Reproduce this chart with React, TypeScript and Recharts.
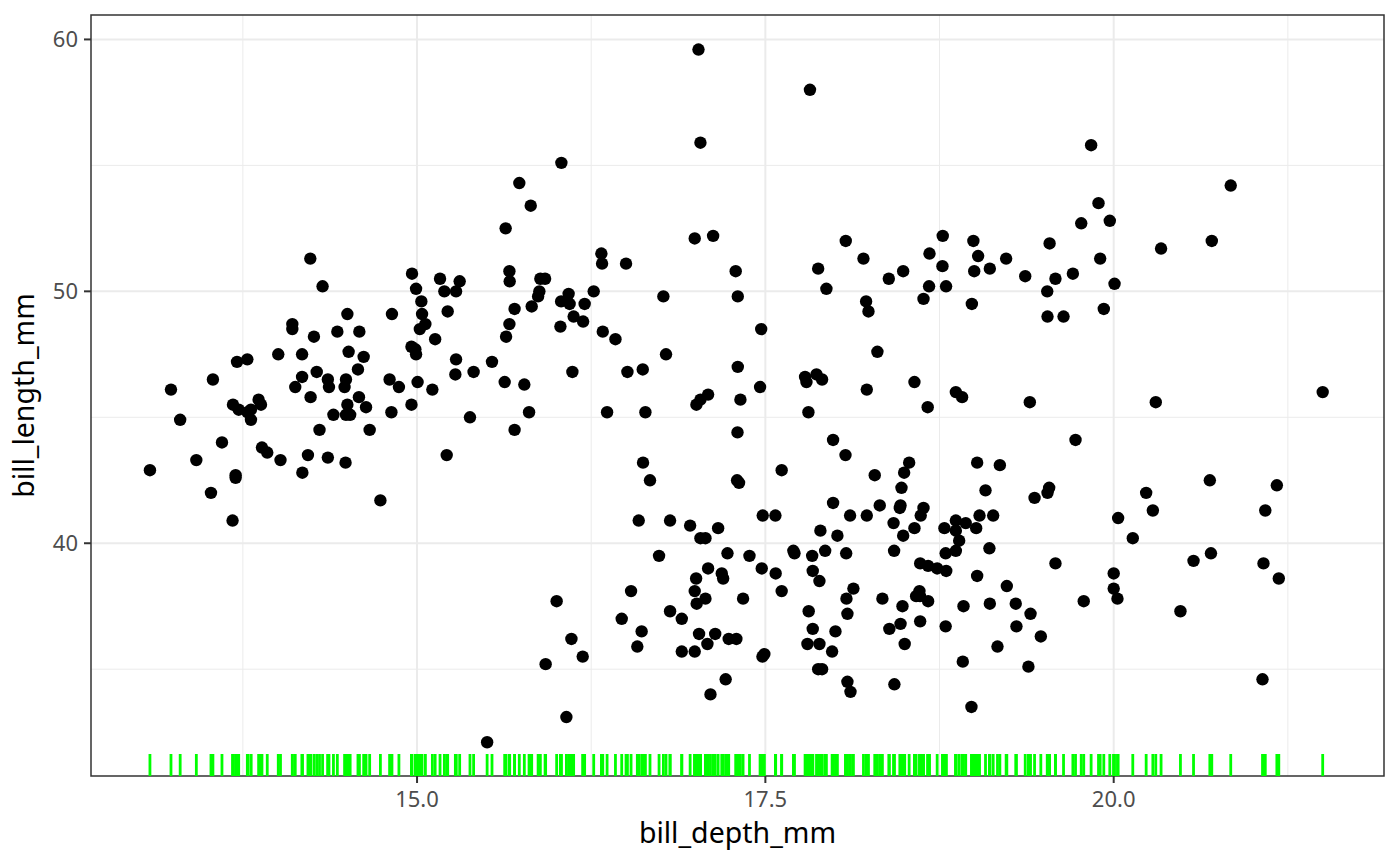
import React from 'react';
import {
  ScatterChart,
  Scatter,
  XAxis,
  YAxis,
  CartesianGrid,
  ReferenceArea,
} from 'recharts';

// [bill_length_mm, bill_depth_mm]
const adelie = [
  [39.1, 18.7], [39.5, 17.4], [40.3, 18.0], [36.7, 19.3], [39.3, 20.6], [38.9, 17.8], [39.2, 19.6], [34.1, 18.1],
  [42.0, 20.2], [37.8, 17.1], [37.8, 17.3], [41.1, 17.6], [38.6, 21.2], [34.6, 21.1], [36.6, 17.8], [38.7, 19.0],
  [42.5, 20.7], [34.4, 18.4], [46.0, 21.5], [37.8, 18.3], [37.7, 18.7], [35.9, 19.2], [38.2, 18.1], [38.8, 17.2],
  [35.3, 18.9], [40.6, 18.6], [40.5, 17.9], [37.9, 18.6], [40.5, 18.9], [39.5, 16.7], [37.2, 18.1], [39.5, 17.8],
  [40.9, 18.9], [36.4, 17.0], [39.2, 21.1], [38.8, 20.0], [42.2, 18.5], [37.6, 19.3], [39.8, 19.1], [36.5, 18.0],
  [40.8, 18.4], [36.0, 18.5], [44.1, 19.7], [37.0, 16.9], [39.6, 18.8], [41.1, 19.0], [37.5, 18.9], [36.0, 17.9],
  [42.3, 21.2], [39.6, 17.7], [40.1, 18.9], [35.0, 17.9], [42.0, 19.5], [34.5, 18.1], [41.4, 18.6], [39.0, 17.5],
  [40.6, 18.8], [36.5, 16.6], [37.6, 19.1], [35.7, 16.9], [41.3, 21.1], [37.6, 17.0], [41.1, 18.2], [36.4, 17.1],
  [41.6, 18.0], [35.5, 16.2], [41.1, 19.1], [35.9, 16.6], [41.8, 19.4], [33.5, 19.0], [39.7, 18.4], [39.6, 17.2],
  [45.8, 18.9], [35.5, 17.5], [42.8, 18.5], [40.9, 16.8], [37.2, 19.4], [36.2, 16.1], [42.1, 19.1], [34.6, 17.2],
  [42.9, 17.6], [36.7, 18.8], [35.1, 19.4], [37.3, 17.8], [41.3, 20.3], [36.3, 19.5], [36.9, 18.6], [38.3, 19.2],
  [38.9, 18.8], [35.7, 18.0], [41.1, 18.1], [34.0, 17.1], [39.6, 18.1], [36.2, 17.3], [40.8, 18.9], [38.1, 18.6],
  [40.3, 18.5], [33.1, 16.1], [43.2, 18.5], [35.0, 17.9], [41.0, 20.0], [37.7, 16.0], [37.8, 20.0], [37.9, 18.6],
  [39.7, 18.9], [38.6, 17.2], [38.2, 20.0], [38.1, 17.0], [43.2, 19.0], [38.1, 16.5], [45.6, 20.3], [39.7, 17.7],
  [42.2, 19.5], [39.6, 20.7], [42.7, 18.3], [38.6, 17.0], [37.3, 20.5], [35.7, 17.0], [41.1, 18.6], [36.2, 17.2],
  [37.7, 19.8], [40.2, 17.0], [41.4, 18.5], [35.2, 15.9], [40.6, 19.0], [38.8, 17.6], [41.5, 18.3], [39.0, 17.1],
  [44.1, 18.0], [38.5, 17.9], [43.1, 19.2], [36.8, 18.5], [37.5, 18.5], [38.1, 17.6], [41.1, 17.5], [35.6, 17.5],
  [40.2, 20.1], [37.0, 16.5], [39.7, 17.9], [40.2, 17.1], [40.6, 17.2], [32.1, 15.5], [40.7, 17.0], [37.3, 16.8],
  [39.0, 18.7], [39.2, 18.6], [36.6, 18.4], [36.0, 17.8], [37.8, 18.1], [36.0, 17.1], [41.5, 18.5],
];

// horizontal jitter of each point (same order as above)
const adelieJitter = [
  -0.032, -0.014, 0.017, 0.002, -0.027, 0.04, -0.018, 0.011, 0.033, -0.03, 0.04, -0.028, -0.015, -0.032, 0.04, 0.02,
  -0.01, 0.026, 0, 0.04, -0.032, -0.034, 0.032, -0.013, 0.017, -0.03, -0.005, -0.018, -0.033, 0.037, -0.011, 0.036,
  -0.033, 0.024, -0.025, 0, -0.023, -0.003, 0.008, 0.003, 0.02, 0, 0.026, 0, -0.006, 0.037, 0.022, -0.012,
  -0.029, 0.009, -0.009, -0.021, 0.025, -0.011, 0.035, -0.026, -0.015, 0.012, 0.011, 0, -0.012, 0.007, 0.028, 0.04,
  -0.014, -0.011, 0.035, -0.019, 0.032, -0.021, 0.024, 0.028, 0.012, -0.021, -0.004, 0.016, 0.003, 0.008, -0.02, 0.015,
  0.017, -0.006, -0.012, 0.011, -0.019, -0.023, 0.011, 0.033, -0.002, -0.021, 0.008, 0.006, -0.02, -0.008, 0.038, 0.006,
  -0.011, -0.028, 0.032, 0.007, 0.032, 0.002, 0.027, 0.01, -0.033, -0.003, 0, -0.007, 0.02, 0.036, 0.002, 0.001,
  0.037, -0.002, -0.015, 0.003, -0.021, -0.007, 0.015, 0.037, -0.015, 0.034, -0.035, 0.023, 0.013, -0.026, 0.021, -0.011,
  -0.014, -0.012, -0.017, -0.03, -0.016, 0.017, -0.019, -0.007, 0.037, -0.031, 0.029, -0.03, -0.039, 0.003, -0.04, 0.016,
  0.033, 0.011, -0.01, 0.002, -0.018, -0.016, -0.03,
];

const gentoo = [
  [46.1, 13.2], [50.0, 16.3], [48.7, 14.1], [50.0, 15.2], [47.6, 14.5], [46.5, 13.5], [45.4, 14.6], [46.7, 15.3],
  [43.3, 13.4], [46.8, 15.4], [40.9, 13.7], [49.0, 16.1], [45.5, 13.7], [48.4, 14.6], [45.8, 14.6], [49.3, 15.7],
  [42.0, 13.5], [49.2, 15.2], [46.2, 14.5], [48.7, 15.1], [50.2, 14.3], [45.1, 14.5], [46.5, 14.5], [46.3, 15.8],
  [42.9, 13.1], [46.1, 15.1], [44.5, 14.3], [47.8, 15.0], [48.2, 14.3], [50.0, 15.3], [47.3, 15.3], [42.8, 14.2],
  [45.1, 14.5], [59.6, 17.0], [49.1, 14.8], [48.4, 16.3], [42.6, 13.7], [44.4, 17.3], [44.0, 13.6], [48.7, 15.7],
  [42.7, 13.7], [49.6, 16.0], [45.3, 13.7], [49.6, 15.0], [50.5, 15.9], [43.6, 13.9], [45.5, 13.9], [50.5, 15.9],
  [44.9, 13.3], [45.2, 15.8], [46.6, 14.2], [48.5, 14.1], [45.1, 14.4], [50.1, 15.0], [46.5, 14.4], [45.0, 15.4],
  [43.8, 13.9], [45.5, 15.0], [43.2, 14.5], [50.4, 15.3], [45.3, 13.8], [46.2, 14.9], [45.7, 13.9], [54.3, 15.7],
  [45.8, 14.2], [49.8, 16.8], [46.2, 14.4], [49.5, 16.2], [43.5, 14.2], [50.7, 15.0], [47.7, 15.0], [46.4, 15.6],
  [48.2, 15.6], [46.5, 14.8], [46.4, 15.0], [48.6, 16.0], [47.5, 14.2], [51.1, 16.3], [45.2, 13.8], [45.2, 16.4],
  [49.1, 14.5], [52.5, 15.6], [47.4, 14.6], [50.0, 15.9], [44.9, 13.8], [50.8, 17.3], [43.4, 14.4], [51.3, 14.2],
  [47.5, 14.0], [52.1, 17.0], [47.5, 15.0], [52.2, 17.1], [45.5, 14.5], [49.5, 16.1], [44.5, 14.7], [50.8, 15.7],
  [49.4, 15.8], [46.9, 14.6], [48.4, 14.4], [51.1, 16.5], [48.5, 15.0], [55.9, 17.0], [47.2, 15.5], [49.1, 15.0],
  [47.3, 13.8], [46.8, 16.1], [41.7, 14.7], [53.4, 15.8], [43.3, 14.0], [48.1, 15.1], [50.5, 15.2], [49.8, 15.9],
  [43.5, 15.2], [51.5, 16.3], [46.2, 14.1], [55.1, 16.0], [44.5, 15.7], [48.8, 16.2], [47.2, 13.7], [46.8, 14.3],
  [50.4, 15.7], [45.2, 14.8], [49.9, 16.1],
];

const gentooJitter = [
  0.034, -0.032, 0.005, -0.004, 0.009, 0.035, 0.034, -0.025, 0.016, 0.006, -0.024, 0.024, -0.021, -0.014, -0.017, 0,
  0.021, 0.02, -0.02, -0.04, 0.022, -0.01, -0.01, -0.03, -0.017, 0.01, 0, -0.04, -0.04, -0.02, -0.02, -0.023,
  0.02, 0.02, 0.02, 0.033, -0.002, 0, 0, -0.037, -0.002, 0.034, 0.02, 0.031, -0.015, 0.025, -0.02, 0.019,
  0, 0.004, -0.025, 0.005, 0, -0.007, -0.04, -0.02, -0.013, -0.04, -0.013, 0.006, 0.008, -0.03, -0.037, 0.034,
  0.036, -0.032, -0.032, 0.003, 0.017, -0.036, -0.012, 0.029, 0.039, 0.003, 0.004, 0.029, -0.025, 0.028, -0.016, -0.036,
  0, 0.036, 0.017, -0.022, 0.008, -0.013, -0.04, 0.034, 0.004, -0.007, -0.007, 0.025, 0, -0.005, -0.04, -0.037,
  0.023, -0.024, 0.028, 0, 0.02, 0.034, 0.038, 0.036, -0.018, 0.015, 0.037, 0.016, 0.02, 0.03, -0.035, -0.031,
  0.013, 0.023, 0.026, 0.036, 0, -0.008, 0.008, -0.02, -0.035, 0.016, -0.012,
];

const chinstrap = [
  [46.5, 17.9], [50.0, 19.5], [51.3, 19.2], [45.4, 18.7], [52.7, 19.8], [45.2, 17.8], [46.1, 18.2], [51.3, 18.2],
  [46.0, 18.9], [51.3, 19.9], [46.6, 17.8], [51.7, 20.3], [47.0, 17.3], [52.0, 18.1], [45.9, 17.1], [50.5, 19.6],
  [50.3, 20.0], [58.0, 17.8], [46.4, 18.6], [49.2, 18.2], [42.4, 17.3], [48.5, 17.5], [43.2, 16.6], [50.6, 19.4],
  [46.7, 17.9], [52.0, 19.0], [50.5, 18.4], [49.5, 19.0], [46.4, 17.8], [52.8, 20.0], [40.9, 16.6], [54.2, 20.8],
  [42.5, 16.7], [51.0, 18.8], [49.7, 18.6], [47.5, 16.8], [47.6, 18.3], [52.0, 20.7], [46.9, 16.6], [53.5, 19.9],
  [49.0, 19.5], [46.2, 17.5], [50.9, 19.1], [45.5, 17.0], [50.9, 17.9], [50.8, 18.5], [50.1, 17.9], [49.0, 19.6],
  [51.5, 18.7], [49.8, 17.3], [48.1, 16.4], [51.4, 19.0], [45.7, 17.3], [50.7, 19.7], [42.5, 17.3], [52.2, 18.8],
  [45.2, 16.6], [49.3, 19.9], [50.2, 18.8], [45.6, 19.4], [51.9, 19.5], [46.8, 16.5], [45.7, 17.0], [55.8, 19.8],
  [43.5, 18.1], [49.6, 18.2], [50.8, 19.0], [50.2, 18.7],
];

const chinstrapJitter = [
  0.007, 0.023, 0.028, -0.035, -0.033, 0.009, 0.028, 0.004, -0.033, 0.003, -0.015, 0.04, 0.002, -0.023, -0.011, -0.018,
  0.006, 0.02, -0.03, 0.04, 0.011, -0.03, 0.022, -0.035, -0.033, -0.007, -0.014, -0.018, -0.005, -0.028, -0.009, 0.04,
  -0.028, -0.029, 0.035, -0.013, 0.004, 0.004, 0.02, -0.009, 0.025, -0.038, 0.011, 0.005, -0.021, -0.011, 0.038, 0.04,
  -0.022, 0.002, 0.024, 0.027, 0.021, 0.007, -0.003, -0.027, 0.039, 0.029, -0.003, -0.002, 0.04, 0.01, 0.034, 0.038,
  -0.025, 0.023, -0.001, -0.025,
];

const xTicks = [15, 17.5, 20];
const xMinor = [13.75, 16.25, 18.75, 21.25];
const yTicks = [40, 50, 60];
const yMinor = [35, 45, 55];

const X_DOMAIN: [number, number] = [12.66, 21.94];
const Y_DOMAIN: [number, number] = [30.76, 60.97];

const FONT = '"Noto Sans", sans-serif';

const toPoints = (rows: number[][], jitter: number[]) =>
  rows.map(([len, depth], i) => ({
    bill_depth_mm: depth + (jitter[i] ?? 0),
    bill_length_mm: len,
  }));

const points = [
  ...toPoints(adelie, adelieJitter),
  ...toPoints(gentoo, gentooJitter),
  ...toPoints(chinstrap, chinstrapJitter),
];

// rug sits on the bottom edge of the panel
const rug = points.map((p) => ({ bill_depth_mm: p.bill_depth_mm, bill_length_mm: Y_DOMAIN[0] }));

const Dot = (props: any) => <circle cx={props.cx} cy={props.cy} r={6.2} fill="#000000" />;

const RugTick = (props: any) => (
  <line x1={props.cx} x2={props.cx} y1={props.cy} y2={props.cy - 22} stroke="#00FF00" strokeWidth={2.8} />
);

export default function App() {
  return (
    <div style={{ width: 1400, height: 866, fontFamily: FONT }}>
      <style>{'body { margin: 0; }'}</style>
      <ScatterChart width={1400} height={866} margin={{ top: 15, right: 16, left: 0, bottom: 0 }}>
        <CartesianGrid stroke="#EBEBEB" strokeWidth={1} horizontalValues={yMinor} verticalValues={xMinor} />
        <CartesianGrid stroke="#EBEBEB" strokeWidth={2} horizontalValues={yTicks} verticalValues={xTicks} />
        <XAxis
          type="number"
          dataKey="bill_depth_mm"
          domain={X_DOMAIN}
          ticks={xTicks}
          tickFormatter={(v: number) => v.toFixed(1)}
          height={90}
          axisLine={false}
          tickLine={{ stroke: '#333333', strokeWidth: 2 }}
          tickSize={7}
          tickMargin={8}
          tick={{ fill: '#4D4D4D', fontSize: 22, fontFamily: FONT }}
          label={{
            content: () => (
              <text x={737.5} y={843} textAnchor="middle" fontSize={28.5} fontFamily={FONT} fill="#000000">
                bill_depth_mm
              </text>
            ),
          }}
        />
        <YAxis
          type="number"
          dataKey="bill_length_mm"
          domain={Y_DOMAIN}
          ticks={yTicks}
          width={91}
          axisLine={false}
          tickLine={{ stroke: '#333333', strokeWidth: 2 }}
          tickSize={7}
          tickMargin={6}
          tick={{ fill: '#4D4D4D', fontSize: 22, fontFamily: FONT }}
          label={{
            content: () => (
              <text
                transform="translate(34, 395.5) rotate(-90)"
                textAnchor="middle"
                fontSize={28.5}
                fontFamily={FONT}
                fill="#000000"
              >
                bill_length_mm
              </text>
            ),
          }}
        />
        <Scatter data={points} shape={Dot} isAnimationActive={false} />
        <Scatter data={rug} shape={RugTick} isAnimationActive={false} />
        <ReferenceArea
          x1={X_DOMAIN[0]}
          x2={X_DOMAIN[1]}
          y1={Y_DOMAIN[0]}
          y2={Y_DOMAIN[1]}
          fill="none"
          stroke="#333333"
          strokeWidth={1.5}
        />
      </ScatterChart>
    </div>
  );
}
